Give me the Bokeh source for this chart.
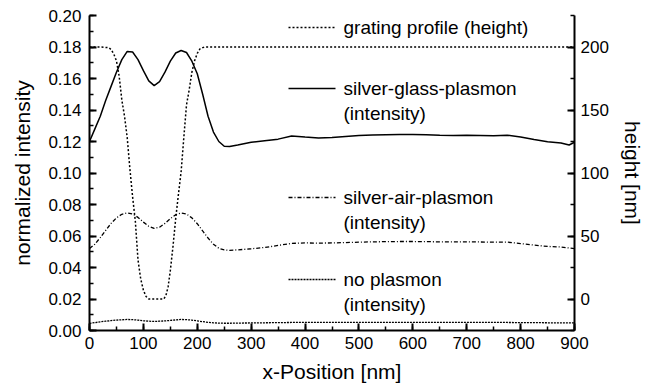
from bokeh.plotting import figure
from bokeh.models import Range1d, LinearAxis, PrintfTickFormatter, SingleIntervalTicker, Label
from bokeh.embed import file_html
from bokeh.resources import INLINE

# ---------------- data ----------------
x_pos = [0, 10, 20, 30, 40, 50, 60, 70, 80, 90, 100, 110, 120, 130, 140, 150, 160, 170,
         180, 190, 200, 210, 220, 230, 240, 250, 260,
         275, 300, 325, 350, 375, 400, 425, 450, 475, 500, 525, 550, 575, 600, 625, 650,
         675, 700, 725, 750, 775, 800, 825, 850, 875, 890, 900]

silver_glass = [0.120, 0.128, 0.136, 0.146, 0.155, 0.164, 0.172, 0.1772, 0.1768, 0.172, 0.165,
                0.1585, 0.1555, 0.158, 0.164, 0.171, 0.1762, 0.1778, 0.1765, 0.171, 0.163,
                0.150, 0.136, 0.126, 0.120, 0.117, 0.1168,
                0.1178, 0.1195, 0.1205, 0.1215, 0.1235, 0.1228, 0.1222, 0.1225, 0.1232, 0.1238,
                0.1242, 0.1243, 0.1244, 0.1245, 0.1243, 0.1240, 0.1238, 0.1240, 0.1238, 0.1236,
                0.1240, 0.1228, 0.1212, 0.1198, 0.1190, 0.1178, 0.1195]

silver_air = [0.052, 0.0548, 0.059, 0.0635, 0.068, 0.0715, 0.0738, 0.0746, 0.0740, 0.0718, 0.0688,
              0.0662, 0.0648, 0.0656, 0.068, 0.071, 0.0735, 0.0746, 0.0740, 0.0715, 0.0678,
              0.0632, 0.0587, 0.0548, 0.0522, 0.0512, 0.0509,
              0.0512, 0.0519, 0.0527, 0.0540, 0.0553, 0.0556, 0.0555, 0.0556, 0.0558, 0.0561,
              0.0563, 0.0564, 0.0565, 0.0565, 0.0564, 0.0563, 0.0563, 0.0563, 0.0562, 0.0561,
              0.0561, 0.0552, 0.0542, 0.0534, 0.0530, 0.0524, 0.0520]

no_plasmon = [0.0045, 0.0050, 0.0055, 0.0059, 0.0063, 0.0066, 0.0068, 0.0070, 0.0069, 0.0066, 0.0062,
              0.0059, 0.0058, 0.0059, 0.0061, 0.0064, 0.0067, 0.0070, 0.0069, 0.0066, 0.0061,
              0.0056, 0.0052, 0.0049, 0.0047, 0.0046, 0.0046,
              0.0047, 0.0048, 0.0049, 0.0050, 0.0051, 0.0051, 0.0051, 0.0051, 0.0052, 0.0052,
              0.0052, 0.0052, 0.0052, 0.0052, 0.0052, 0.0052, 0.0052, 0.0052, 0.0052, 0.0051,
              0.0051, 0.0050, 0.0050, 0.0049, 0.0049, 0.0048, 0.0048]

x_grating = [0, 20, 36, 40, 45, 50, 55, 60, 65, 70, 75, 80, 85, 90, 95, 100, 105, 110, 120, 130,
             138, 142, 146, 150, 155, 160, 165, 170, 175, 180, 185, 190, 195, 200, 205, 210, 215,
             300, 400, 500, 600, 700, 800, 900]
grating_height = [200, 200, 199.5, 198, 194.5, 189, 177, 158, 145, 128, 103, 81, 62, 31, 16, 7, 2, 0, 0, 0,
                  0, 3, 10, 22.6, 42, 64, 83, 101, 128, 154, 166, 180, 189, 195, 198.5, 199.5, 200,
                  200, 200, 200, 200, 200, 200, 200]

legend_labels = [["grating profile (height)"],
                 ["silver-glass-plasmon", "(intensity)"],
                 ["silver-air-plasmon", "(intensity)"],
                 ["no plasmon", "(intensity)"]]

# ---------------- layout constants ----------------
W, H = 646, 390
FL, FR, FT, FB = 89, 574, 15, 330  # frame edges in canvas pixels
X0, X1 = 0, 900
Y0, Y1 = 0.0, 0.2
H0, H1 = -25, 225
FONT = "Liberation Sans"


def dx(px):
    return X0 + (px - FL) / (FR - FL) * (X1 - X0)


def dy(py):
    return Y0 + (FB - py) / (FB - FT) * (Y1 - Y0)


p = figure(width=W, height=H, x_range=Range1d(X0, X1), y_range=Range1d(Y0, Y1),
           output_backend="svg", toolbar_location=None,
           min_border_left=FL, min_border_right=W - FR, min_border_top=FT, min_border_bottom=H - FB)
p.extra_y_ranges = {"h": Range1d(H0, H1)}
p.xgrid.visible = False
p.ygrid.visible = False
p.outline_line_color = None
p.background_fill_color = "white"
p.border_fill_color = "white"

right = LinearAxis(y_range_name="h", axis_label="height [nm]")
p.add_layout(right, "right")

p.xaxis.axis_label = "x-Position [nm]"
p.yaxis[0].axis_label = "normalized intensity"
p.xaxis.ticker = SingleIntervalTicker(interval=100, num_minor_ticks=2)
p.yaxis[0].ticker = SingleIntervalTicker(interval=0.02, num_minor_ticks=2)
p.yaxis[0].formatter = PrintfTickFormatter(format="%.2f")
right.ticker = SingleIntervalTicker(interval=50, num_minor_ticks=2)

for ax in [p.xaxis[0], p.yaxis[0], right]:
    ax.axis_line_width = 2
    ax.axis_line_color = "black"
    ax.major_tick_line_width = 2
    ax.minor_tick_line_width = 1.5
    ax.major_tick_line_color = "black"
    ax.minor_tick_line_color = "black"
    ax.major_tick_in = 7
    ax.major_tick_out = 0
    ax.minor_tick_in = 4
    ax.minor_tick_out = 0
    ax.major_label_text_font = FONT
    ax.major_label_text_font_size = "17px"
    ax.major_label_text_color = "black"
    ax.axis_label_text_font = FONT
    ax.axis_label_text_font_size = "21px"
    ax.axis_label_text_font_style = "normal"
    ax.axis_label_text_color = "black"

p.xaxis.major_label_standoff = 6
p.xaxis.axis_label_standoff = 8
p.yaxis[0].major_label_standoff = 8
p.yaxis[0].axis_label_standoff = 11
right.major_label_standoff = 6
right.axis_label_standoff = 9

# ---------------- curves ----------------
p.line(x_grating, grating_height, y_range_name="h", line_color="black", line_width=1.5, line_dash="2 2")
p.line(x_pos, silver_glass, line_color="black", line_width=1.5)
p.line(x_pos, silver_air, line_color="black", line_width=1.3, line_dash="4 2 1 2")
p.line(x_pos, no_plasmon, line_color="black", line_width=1.3, line_dash="2 1")

# ---------------- legend (manual) ----------------
styles = [dict(line_width=1.5, line_dash="2 2"),
          dict(line_width=1.5, line_dash="solid"),
          dict(line_width=1.3, line_dash="4 2 1 2"),
          dict(line_width=1.3, line_dash="2 1")]
rows = [27, 88, 197, 279]
line_gap = 25
for labels, st, r in zip(legend_labels, styles, rows):
    p.segment(x0=[dx(288)], x1=[dx(335)], y0=[dy(r)], y1=[dy(r)], line_color="black", **st)
    for k, t in enumerate(labels):
        p.add_layout(Label(x=dx(343), y=dy(r + k * line_gap), text=t, text_font=FONT,
                           text_font_size="19px", text_baseline="middle", text_color="black"))

open("out.html", "w").write(file_html(p, INLINE))
